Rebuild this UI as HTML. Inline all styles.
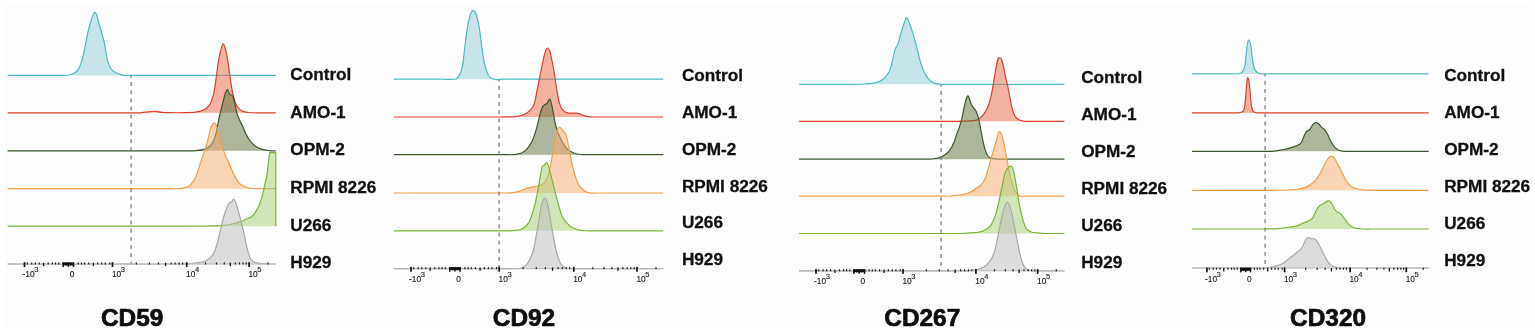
<!DOCTYPE html>
<html><head><meta charset="utf-8"><title>CD59 CD92 CD267 CD320 flow cytometry histograms</title>
<style>
html,body{margin:0;padding:0;background:#fff;}
body{width:1535px;height:333px;overflow:hidden;}
svg{display:block;}
.lb{font-family:"Liberation Sans",Arial,sans-serif;font-weight:bold;font-size:17.2px;fill:#111;stroke:#111;stroke-width:0.3px;}
.tt{font-family:"Liberation Sans",Arial,sans-serif;font-weight:bold;font-size:24.4px;fill:#0d0d0d;stroke:#0d0d0d;stroke-width:0.7px;}
.tl{font-family:"Liberation Sans",Arial,sans-serif;font-size:8.3px;fill:#1a1a1a;stroke:#1a1a1a;stroke-width:0.12px;}
.sp{font-size:7.6px;}
</style></head>
<body>
<svg width="1535" height="333" viewBox="0 0 1535 333">
<rect x="0" y="0" width="1535" height="333" fill="#ffffff"/>
<rect x="5" y="5" width="1525" height="323" fill="#fdfdfd"/>
<path d="M7.6 75.4 L60 75.4 C61.53 75.33 66.27 75.83 69.2 75 C72.13 74.17 75.38 73.17 77.6 70.4 C79.82 67.63 81.1 63.22 82.5 58.4 C83.9 53.58 85 46.23 86 41.5 C87 36.77 87.08 34.88 88.5 30 C89.92 25.12 92.7 13.08 94.5 12.2 C96.3 11.32 97.72 19.82 99.3 24.7 C100.88 29.58 102.6 35.48 104 41.5 C105.4 47.52 106.28 55.98 107.7 60.8 C109.12 65.62 110.12 68.02 112.5 70.4 C114.88 72.78 119.08 74.27 122 75.1 C124.92 75.93 128.67 75.35 130 75.4 L275.8 75.4 Z" fill="#91cdd3" fill-opacity="0.5" stroke="none"/>
<path d="M7.6 75.4 L60 75.4 C61.53 75.33 66.27 75.83 69.2 75 C72.13 74.17 75.38 73.17 77.6 70.4 C79.82 67.63 81.1 63.22 82.5 58.4 C83.9 53.58 85 46.23 86 41.5 C87 36.77 87.08 34.88 88.5 30 C89.92 25.12 92.7 13.08 94.5 12.2 C96.3 11.32 97.72 19.82 99.3 24.7 C100.88 29.58 102.6 35.48 104 41.5 C105.4 47.52 106.28 55.98 107.7 60.8 C109.12 65.62 110.12 68.02 112.5 70.4 C114.88 72.78 119.08 74.27 122 75.1 C124.92 75.93 128.67 75.35 130 75.4 L275.8 75.4" fill="none" stroke="#4fb9c1" stroke-width="1.2" stroke-linejoin="round"/>
<path d="M7.6 112.8 L140 112.8 C141.67 112.6 147.33 111.85 150 111.6 C152.67 111.35 154 111.17 156 111.3 C158 111.43 159.67 112.17 162 112.4 C164.33 112.63 166.17 112.65 170 112.7 C173.83 112.75 180.82 112.78 185 112.7 C189.18 112.62 192.13 112.58 195.1 112.2 C198.07 111.82 200.45 111.55 202.8 110.4 C205.15 109.25 207.5 107.65 209.2 105.3 C210.9 102.95 212.03 99.5 213 96.3 C213.97 93.1 214.37 89.93 215 86.1 C215.63 82.27 216.2 77.57 216.8 73.3 C217.4 69.03 217.95 64.33 218.6 60.5 C219.25 56.67 219.93 53.07 220.7 50.3 C221.47 47.53 222.35 43.9 223.2 43.9 C224.05 43.9 225.03 47.53 225.8 50.3 C226.57 53.07 227.17 56.67 227.8 60.5 C228.43 64.33 229 69.03 229.6 73.3 C230.2 77.57 230.77 82.27 231.4 86.1 C232.03 89.93 232.42 92.9 233.4 96.3 C234.38 99.7 235.8 104.03 237.3 106.5 C238.8 108.97 240.48 110.1 242.4 111.1 C244.32 112.1 246.53 112.22 248.8 112.5 C251.07 112.78 254.8 112.75 256 112.8 L275.8 112.8 Z" fill="#ec6a45" fill-opacity="0.5" stroke="none"/>
<path d="M7.6 112.8 L140 112.8 C141.67 112.6 147.33 111.85 150 111.6 C152.67 111.35 154 111.17 156 111.3 C158 111.43 159.67 112.17 162 112.4 C164.33 112.63 166.17 112.65 170 112.7 C173.83 112.75 180.82 112.78 185 112.7 C189.18 112.62 192.13 112.58 195.1 112.2 C198.07 111.82 200.45 111.55 202.8 110.4 C205.15 109.25 207.5 107.65 209.2 105.3 C210.9 102.95 212.03 99.5 213 96.3 C213.97 93.1 214.37 89.93 215 86.1 C215.63 82.27 216.2 77.57 216.8 73.3 C217.4 69.03 217.95 64.33 218.6 60.5 C219.25 56.67 219.93 53.07 220.7 50.3 C221.47 47.53 222.35 43.9 223.2 43.9 C224.05 43.9 225.03 47.53 225.8 50.3 C226.57 53.07 227.17 56.67 227.8 60.5 C228.43 64.33 229 69.03 229.6 73.3 C230.2 77.57 230.77 82.27 231.4 86.1 C232.03 89.93 232.42 92.9 233.4 96.3 C234.38 99.7 235.8 104.03 237.3 106.5 C238.8 108.97 240.48 110.1 242.4 111.1 C244.32 112.1 246.53 112.22 248.8 112.5 C251.07 112.78 254.8 112.75 256 112.8 L275.8 112.8" fill="none" stroke="#d9412f" stroke-width="1.2" stroke-linejoin="round"/>
<path d="M7.6 150.8 L185 150.8 C186.88 150.77 193.02 150.88 196.3 150.6 C199.58 150.32 202.25 150.03 204.7 149.1 C207.15 148.17 209.32 146.92 211 145 C212.68 143.08 213.75 140.58 214.8 137.6 C215.85 134.62 216.53 130.62 217.3 127.1 C218.07 123.58 218.7 119.67 219.4 116.5 C220.1 113.33 220.8 110.9 221.5 108.1 C222.2 105.3 222.97 102.15 223.6 99.7 C224.23 97.25 224.67 95.08 225.3 93.4 C225.93 91.72 226.75 89.57 227.4 89.6 C228.05 89.63 228.68 92.77 229.2 93.6 C229.72 94.43 229.85 94.07 230.5 94.6 C231.15 95.13 232.32 94.9 233.1 96.8 C233.88 98.7 234.5 103.07 235.2 106 C235.9 108.93 236.6 112.12 237.3 114.4 C238 116.68 238.52 117.77 239.4 119.7 C240.28 121.63 241.55 123.72 242.6 126 C243.65 128.28 244.48 130.95 245.7 133.4 C246.92 135.85 248.32 138.6 249.9 140.7 C251.48 142.8 253.27 144.6 255.2 146 C257.13 147.4 259.05 148.33 261.5 149.1 C263.95 149.87 267.82 150.32 269.9 150.6 C271.98 150.88 273.32 150.77 274 150.8 L275.8 150.8 Z" fill="#5d6e3c" fill-opacity="0.5" stroke="none"/>
<path d="M7.6 150.8 L185 150.8 C186.88 150.77 193.02 150.88 196.3 150.6 C199.58 150.32 202.25 150.03 204.7 149.1 C207.15 148.17 209.32 146.92 211 145 C212.68 143.08 213.75 140.58 214.8 137.6 C215.85 134.62 216.53 130.62 217.3 127.1 C218.07 123.58 218.7 119.67 219.4 116.5 C220.1 113.33 220.8 110.9 221.5 108.1 C222.2 105.3 222.97 102.15 223.6 99.7 C224.23 97.25 224.67 95.08 225.3 93.4 C225.93 91.72 226.75 89.57 227.4 89.6 C228.05 89.63 228.68 92.77 229.2 93.6 C229.72 94.43 229.85 94.07 230.5 94.6 C231.15 95.13 232.32 94.9 233.1 96.8 C233.88 98.7 234.5 103.07 235.2 106 C235.9 108.93 236.6 112.12 237.3 114.4 C238 116.68 238.52 117.77 239.4 119.7 C240.28 121.63 241.55 123.72 242.6 126 C243.65 128.28 244.48 130.95 245.7 133.4 C246.92 135.85 248.32 138.6 249.9 140.7 C251.48 142.8 253.27 144.6 255.2 146 C257.13 147.4 259.05 148.33 261.5 149.1 C263.95 149.87 267.82 150.32 269.9 150.6 C271.98 150.88 273.32 150.77 274 150.8 L275.8 150.8" fill="none" stroke="#385a2e" stroke-width="1.2" stroke-linejoin="round"/>
<path d="M7.6 188.7 L170 188.7 C172 188.65 178.67 188.97 182 188.4 C185.33 187.83 187.67 187.32 190 185.3 C192.33 183.28 194.12 180.47 196 176.3 C197.88 172.13 199.85 164.6 201.3 160.3 C202.75 156 203.78 153.18 204.7 150.5 C205.62 147.82 206.1 146.65 206.8 144.2 C207.5 141.75 208.2 138.62 208.9 135.8 C209.6 132.98 210.15 129.45 211 127.3 C211.85 125.15 213.12 123.23 214 122.9 C214.88 122.57 215.57 123.5 216.3 125.3 C217.03 127.1 217.53 130.55 218.4 133.7 C219.27 136.85 220.48 140.93 221.5 144.2 C222.52 147.47 223.47 150.62 224.5 153.3 C225.53 155.98 226.17 156.85 227.7 160.3 C229.23 163.75 231.7 170.1 233.7 174 C235.7 177.9 237.08 181.37 239.7 183.7 C242.32 186.03 246.35 187.17 249.4 188 C252.45 188.83 256.57 188.58 258 188.7 L275.8 188.7 Z" fill="#f9ab6b" fill-opacity="0.5" stroke="none"/>
<path d="M7.6 188.7 L170 188.7 C172 188.65 178.67 188.97 182 188.4 C185.33 187.83 187.67 187.32 190 185.3 C192.33 183.28 194.12 180.47 196 176.3 C197.88 172.13 199.85 164.6 201.3 160.3 C202.75 156 203.78 153.18 204.7 150.5 C205.62 147.82 206.1 146.65 206.8 144.2 C207.5 141.75 208.2 138.62 208.9 135.8 C209.6 132.98 210.15 129.45 211 127.3 C211.85 125.15 213.12 123.23 214 122.9 C214.88 122.57 215.57 123.5 216.3 125.3 C217.03 127.1 217.53 130.55 218.4 133.7 C219.27 136.85 220.48 140.93 221.5 144.2 C222.52 147.47 223.47 150.62 224.5 153.3 C225.53 155.98 226.17 156.85 227.7 160.3 C229.23 163.75 231.7 170.1 233.7 174 C235.7 177.9 237.08 181.37 239.7 183.7 C242.32 186.03 246.35 187.17 249.4 188 C252.45 188.83 256.57 188.58 258 188.7 L275.8 188.7" fill="none" stroke="#efa04c" stroke-width="1.2" stroke-linejoin="round"/>
<path d="M7.6 226.2 L200 226.2 C203.33 226.1 215.02 225.88 220 225.6 C224.98 225.32 226.87 225.05 229.9 224.5 C232.93 223.95 236 222.93 238.2 222.3 C240.4 221.67 241.73 221.25 243.1 220.7 C244.47 220.15 245.28 219.47 246.4 219 C247.52 218.53 248.68 218.48 249.8 217.9 C250.92 217.32 252 216.73 253.1 215.5 C254.2 214.27 255.3 212.43 256.4 210.5 C257.5 208.57 258.75 206.23 259.7 203.9 C260.65 201.57 261.42 198.83 262.1 196.5 C262.78 194.17 263.23 192.38 263.8 189.9 C264.37 187.42 264.95 184.25 265.5 181.6 C266.05 178.95 266.62 177.1 267.1 174 C267.58 170.9 267.98 166.57 268.4 163 C268.82 159.43 269.4 154.33 269.6 152.6 L275.8 152.6 L275.8 226.2 Z" fill="#a7cd71" fill-opacity="0.5" stroke="none"/>
<path d="M7.6 226.2 L200 226.2 C203.33 226.1 215.02 225.88 220 225.6 C224.98 225.32 226.87 225.05 229.9 224.5 C232.93 223.95 236 222.93 238.2 222.3 C240.4 221.67 241.73 221.25 243.1 220.7 C244.47 220.15 245.28 219.47 246.4 219 C247.52 218.53 248.68 218.48 249.8 217.9 C250.92 217.32 252 216.73 253.1 215.5 C254.2 214.27 255.3 212.43 256.4 210.5 C257.5 208.57 258.75 206.23 259.7 203.9 C260.65 201.57 261.42 198.83 262.1 196.5 C262.78 194.17 263.23 192.38 263.8 189.9 C264.37 187.42 264.95 184.25 265.5 181.6 C266.05 178.95 266.62 177.1 267.1 174 C267.58 170.9 267.98 166.57 268.4 163 C268.82 159.43 269.4 154.33 269.6 152.6 L275.8 152.6 L275.8 226.2" fill="none" stroke="#79b53a" stroke-width="1.2" stroke-linejoin="round"/>
<path d="M7.6 264 L180 264 C181.48 263.97 186.07 263.98 188.9 263.8 C191.73 263.62 194.82 263.22 197 262.9 C199.18 262.58 200.67 262.22 202 261.9 C203.33 261.58 203.8 261.55 205 261 C206.2 260.45 207.8 259.78 209.2 258.6 C210.6 257.42 212.17 256.08 213.4 253.9 C214.63 251.72 215.62 248.67 216.6 245.5 C217.58 242.33 218.43 238.42 219.3 234.9 C220.17 231.38 221.03 227.55 221.8 224.4 C222.57 221.25 223.2 218.45 223.9 216 C224.6 213.55 225.32 211.53 226 209.7 C226.68 207.87 227.37 206.22 228 205 C228.63 203.78 229.22 202.93 229.8 202.4 C230.38 201.87 230.9 202.33 231.5 201.8 C232.1 201.27 232.85 199.42 233.4 199.2 C233.95 198.98 234.35 199.8 234.8 200.5 C235.25 201.2 235.47 201.52 236.1 203.4 C236.73 205.28 237.75 208.65 238.6 211.8 C239.45 214.95 240.32 218.8 241.2 222.3 C242.08 225.8 243.1 229.3 243.9 232.8 C244.7 236.3 245.3 240.13 246 243.3 C246.7 246.47 247.43 249.38 248.1 251.8 C248.77 254.22 249.18 256.23 250 257.8 C250.82 259.37 251.83 260.35 253 261.2 C254.17 262.05 255.07 262.47 257 262.9 C258.93 263.33 262.43 263.62 264.6 263.8 C266.77 263.98 269.1 263.97 270 264 L275.8 264 Z" fill="#bcbcbc" fill-opacity="0.5" stroke="none"/>
<path d="M7.6 264 L180 264 C181.48 263.97 186.07 263.98 188.9 263.8 C191.73 263.62 194.82 263.22 197 262.9 C199.18 262.58 200.67 262.22 202 261.9 C203.33 261.58 203.8 261.55 205 261 C206.2 260.45 207.8 259.78 209.2 258.6 C210.6 257.42 212.17 256.08 213.4 253.9 C214.63 251.72 215.62 248.67 216.6 245.5 C217.58 242.33 218.43 238.42 219.3 234.9 C220.17 231.38 221.03 227.55 221.8 224.4 C222.57 221.25 223.2 218.45 223.9 216 C224.6 213.55 225.32 211.53 226 209.7 C226.68 207.87 227.37 206.22 228 205 C228.63 203.78 229.22 202.93 229.8 202.4 C230.38 201.87 230.9 202.33 231.5 201.8 C232.1 201.27 232.85 199.42 233.4 199.2 C233.95 198.98 234.35 199.8 234.8 200.5 C235.25 201.2 235.47 201.52 236.1 203.4 C236.73 205.28 237.75 208.65 238.6 211.8 C239.45 214.95 240.32 218.8 241.2 222.3 C242.08 225.8 243.1 229.3 243.9 232.8 C244.7 236.3 245.3 240.13 246 243.3 C246.7 246.47 247.43 249.38 248.1 251.8 C248.77 254.22 249.18 256.23 250 257.8 C250.82 259.37 251.83 260.35 253 261.2 C254.17 262.05 255.07 262.47 257 262.9 C258.93 263.33 262.43 263.62 264.6 263.8 C266.77 263.98 269.1 263.97 270 264 L275.8 264" fill="none" stroke="#a9a9a9" stroke-width="1.2" stroke-linejoin="round"/>
<line x1="131.1" y1="75.4" x2="131.1" y2="264" stroke="#7e7e7e" stroke-width="1.3" stroke-dasharray="3.9 4.25" stroke-dashoffset="1.45"/>
<line x1="7.6" y1="264" x2="275.8" y2="264" stroke="#bababa" stroke-width="1.0"/>
<rect x="23.65" y="262.2" width="1.7" height="4.8" fill="#111"/>
<rect x="111.65" y="262.2" width="1.7" height="4.8" fill="#111"/>
<rect x="185.85" y="262.2" width="1.7" height="4.8" fill="#111"/>
<rect x="248.25" y="262.2" width="1.7" height="4.8" fill="#111"/>
<rect x="26.63" y="262.4" width="1.2" height="2.1" fill="#222"/>
<rect x="109.17" y="262.4" width="1.2" height="2.1" fill="#222"/>
<rect x="31.12" y="262.4" width="1.2" height="2.1" fill="#222"/>
<rect x="104.68" y="262.4" width="1.2" height="2.1" fill="#222"/>
<rect x="34.72" y="262.4" width="1.2" height="2.1" fill="#222"/>
<rect x="101.08" y="262.4" width="1.2" height="2.1" fill="#222"/>
<rect x="38.68" y="262.4" width="1.2" height="2.1" fill="#222"/>
<rect x="97.12" y="262.4" width="1.2" height="2.1" fill="#222"/>
<rect x="42.95" y="262.7" width="1.3" height="3.4" fill="#111"/>
<rect x="92.75" y="262.7" width="1.3" height="3.4" fill="#111"/>
<rect x="47.66" y="262.4" width="1.2" height="2.1" fill="#222"/>
<rect x="88.14" y="262.4" width="1.2" height="2.1" fill="#222"/>
<rect x="51.8" y="262.4" width="1.2" height="2.1" fill="#222"/>
<rect x="84" y="262.4" width="1.2" height="2.1" fill="#222"/>
<rect x="54.88" y="262.4" width="1.2" height="2.1" fill="#222"/>
<rect x="80.92" y="262.4" width="1.2" height="2.1" fill="#222"/>
<rect x="58.13" y="262.4" width="1.2" height="2.1" fill="#222"/>
<rect x="77.67" y="262.4" width="1.2" height="2.1" fill="#222"/>
<rect x="135.72" y="262.4" width="1.2" height="2.1" fill="#222"/>
<rect x="148.79" y="262.4" width="1.2" height="2.1" fill="#222"/>
<rect x="157.83" y="262.4" width="1.2" height="2.1" fill="#222"/>
<rect x="164.9" y="262.7" width="1.3" height="3.4" fill="#111"/>
<rect x="170.53" y="262.4" width="1.2" height="2.1" fill="#222"/>
<rect x="174.61" y="262.4" width="1.2" height="2.1" fill="#222"/>
<rect x="178.54" y="262.4" width="1.2" height="2.1" fill="#222"/>
<rect x="181.96" y="262.4" width="1.2" height="2.1" fill="#222"/>
<rect x="204.88" y="262.4" width="1.2" height="2.1" fill="#222"/>
<rect x="215.87" y="262.4" width="1.2" height="2.1" fill="#222"/>
<rect x="223.67" y="262.4" width="1.2" height="2.1" fill="#222"/>
<rect x="229.67" y="262.7" width="1.3" height="3.4" fill="#111"/>
<rect x="234.66" y="262.4" width="1.2" height="2.1" fill="#222"/>
<rect x="238.83" y="262.4" width="1.2" height="2.1" fill="#222"/>
<rect x="242.45" y="262.4" width="1.2" height="2.1" fill="#222"/>
<rect x="245.64" y="262.4" width="1.2" height="2.1" fill="#222"/>
<rect x="267.28" y="262.4" width="1.2" height="2.1" fill="#222"/>
<rect x="62.5" y="262.4" width="11.7" height="3.0" fill="#111"/>
<rect x="62.5" y="262.4" width="1.5" height="4.7" fill="#111"/>
<rect x="65.51" y="262.4" width="1" height="3.3" fill="#111"/>
<rect x="67.55" y="262.4" width="1.6" height="4.4" fill="#111"/>
<rect x="70.19" y="262.4" width="1" height="3.3" fill="#111"/>
<rect x="72.7" y="262.4" width="1.5" height="4.7" fill="#111"/>
<text x="22.6" y="277" class="tl">-10<tspan dx="-0.4" dy="-4.8" class="sp">3</tspan></text>
<text x="69.65" y="277" class="tl">0</text>
<text x="111.9" y="277" class="tl">10<tspan dx="-0.4" dy="-4.8" class="sp">3</tspan></text>
<text x="186.1" y="277" class="tl">10<tspan dx="-0.4" dy="-4.8" class="sp">4</tspan></text>
<text x="248.5" y="277" class="tl">10<tspan dx="-0.4" dy="-4.8" class="sp">5</tspan></text>
<text x="290.3" y="79.9" class="lb">Control</text>
<text x="290.3" y="118.1" class="lb">AMO-1</text>
<text x="290.3" y="155.2" class="lb">OPM-2</text>
<text x="290.3" y="192.7" class="lb">RPMI 8226</text>
<text x="290.3" y="230.7" class="lb">U266</text>
<text x="290.3" y="267.7" class="lb">H929</text>
<text x="101" y="326" class="tt">CD59</text>
<path d="M393.9 79.2 L440 79.2 C441.8 79.24 448.1 79.53 450.8 79.45 C453.5 79.38 454.62 79.77 456.2 78.75 C457.78 77.73 459.17 76.05 460.3 73.35 C461.43 70.65 462.23 67.07 463 62.55 C463.77 58.03 464.23 51.67 464.9 46.25 C465.57 40.83 466.2 35 467 30.05 C467.8 25.1 468.95 19.58 469.7 16.55 C470.45 13.52 470.92 12.83 471.5 11.85 C472.08 10.87 472.62 10.63 473.2 10.65 C473.78 10.67 474.45 11.18 475 11.95 C475.55 12.72 475.8 12.68 476.5 15.25 C477.2 17.82 478.38 22.63 479.2 27.35 C480.02 32.07 480.63 38.13 481.4 43.55 C482.17 48.97 482.95 55.33 483.8 59.85 C484.65 64.37 485.47 67.73 486.5 70.65 C487.53 73.57 488.52 75.88 490 77.35 C491.48 78.82 493.4 79.14 495.4 79.45 C497.4 79.76 500.9 79.24 502 79.2 L663.3 79.2 Z" fill="#91cdd3" fill-opacity="0.5" stroke="none"/>
<path d="M393.9 79.2 L440 79.2 C441.8 79.24 448.1 79.53 450.8 79.45 C453.5 79.38 454.62 79.77 456.2 78.75 C457.78 77.73 459.17 76.05 460.3 73.35 C461.43 70.65 462.23 67.07 463 62.55 C463.77 58.03 464.23 51.67 464.9 46.25 C465.57 40.83 466.2 35 467 30.05 C467.8 25.1 468.95 19.58 469.7 16.55 C470.45 13.52 470.92 12.83 471.5 11.85 C472.08 10.87 472.62 10.63 473.2 10.65 C473.78 10.67 474.45 11.18 475 11.95 C475.55 12.72 475.8 12.68 476.5 15.25 C477.2 17.82 478.38 22.63 479.2 27.35 C480.02 32.07 480.63 38.13 481.4 43.55 C482.17 48.97 482.95 55.33 483.8 59.85 C484.65 64.37 485.47 67.73 486.5 70.65 C487.53 73.57 488.52 75.88 490 77.35 C491.48 78.82 493.4 79.14 495.4 79.45 C497.4 79.76 500.9 79.24 502 79.2 L663.3 79.2" fill="none" stroke="#4fb9c1" stroke-width="1.2" stroke-linejoin="round"/>
<path d="M393.9 117 L500 117 C502.53 116.92 511.18 116.96 515.2 116.55 C519.22 116.14 521.55 115.65 524.1 114.55 C526.65 113.45 528.8 111.82 530.5 109.95 C532.2 108.08 533.23 106.45 534.3 103.35 C535.37 100.25 536.05 95.47 536.9 91.35 C537.75 87.23 538.55 82.9 539.4 78.65 C540.25 74.4 541.15 69.9 542 65.85 C542.85 61.8 543.78 57.12 544.5 54.35 C545.22 51.58 545.73 50.3 546.3 49.25 C546.87 48.2 547.35 47.83 547.9 48.05 C548.45 48.27 549.02 48.85 549.6 50.55 C550.18 52.25 550.75 55.27 551.4 58.25 C552.05 61.23 552.82 64.63 553.5 68.45 C554.18 72.27 554.83 76.9 555.5 81.15 C556.17 85.4 556.78 90.12 557.5 93.95 C558.22 97.78 558.85 101.38 559.8 104.15 C560.75 106.92 561.92 109.1 563.2 110.55 C564.48 112 565.72 112.43 567.5 112.85 C569.28 113.27 571.98 112.93 573.9 113.05 C575.82 113.17 577.3 113.12 579 113.55 C580.7 113.98 582.4 115.1 584.1 115.65 C585.8 116.2 587.1 116.62 589.2 116.85 C591.3 117.07 595.45 116.97 596.7 117 L663.3 117 Z" fill="#ec6a45" fill-opacity="0.5" stroke="none"/>
<path d="M393.9 117 L500 117 C502.53 116.92 511.18 116.96 515.2 116.55 C519.22 116.14 521.55 115.65 524.1 114.55 C526.65 113.45 528.8 111.82 530.5 109.95 C532.2 108.08 533.23 106.45 534.3 103.35 C535.37 100.25 536.05 95.47 536.9 91.35 C537.75 87.23 538.55 82.9 539.4 78.65 C540.25 74.4 541.15 69.9 542 65.85 C542.85 61.8 543.78 57.12 544.5 54.35 C545.22 51.58 545.73 50.3 546.3 49.25 C546.87 48.2 547.35 47.83 547.9 48.05 C548.45 48.27 549.02 48.85 549.6 50.55 C550.18 52.25 550.75 55.27 551.4 58.25 C552.05 61.23 552.82 64.63 553.5 68.45 C554.18 72.27 554.83 76.9 555.5 81.15 C556.17 85.4 556.78 90.12 557.5 93.95 C558.22 97.78 558.85 101.38 559.8 104.15 C560.75 106.92 561.92 109.1 563.2 110.55 C564.48 112 565.72 112.43 567.5 112.85 C569.28 113.27 571.98 112.93 573.9 113.05 C575.82 113.17 577.3 113.12 579 113.55 C580.7 113.98 582.4 115.1 584.1 115.65 C585.8 116.2 587.1 116.62 589.2 116.85 C591.3 117.07 595.45 116.97 596.7 117 L663.3 117" fill="none" stroke="#d9412f" stroke-width="1.2" stroke-linejoin="round"/>
<path d="M393.9 154.7 L505 154.7 C506.9 154.65 513.12 155 516.4 154.4 C519.68 153.8 522.22 153.03 524.7 151.1 C527.18 149.17 529.38 146.38 531.3 142.8 C533.22 139.22 534.83 134 536.2 129.6 C537.57 125.2 538.53 120 539.5 116.4 C540.47 112.8 541.17 109.92 542 108 C542.83 106.08 543.67 105.65 544.5 104.9 C545.33 104.15 546.18 104.45 547 103.5 C547.82 102.55 548.73 99.45 549.4 99.2 C550.07 98.95 550.45 100.23 551 102 C551.55 103.77 551.87 105.75 552.7 109.8 C553.53 113.85 554.62 121.35 556 126.3 C557.38 131.25 559.07 135.65 561 139.5 C562.93 143.35 565.12 147.03 567.6 149.4 C570.08 151.77 573 152.82 575.9 153.7 C578.8 154.58 583.48 154.53 585 154.7 L663.3 154.7 Z" fill="#5d6e3c" fill-opacity="0.5" stroke="none"/>
<path d="M393.9 154.7 L505 154.7 C506.9 154.65 513.12 155 516.4 154.4 C519.68 153.8 522.22 153.03 524.7 151.1 C527.18 149.17 529.38 146.38 531.3 142.8 C533.22 139.22 534.83 134 536.2 129.6 C537.57 125.2 538.53 120 539.5 116.4 C540.47 112.8 541.17 109.92 542 108 C542.83 106.08 543.67 105.65 544.5 104.9 C545.33 104.15 546.18 104.45 547 103.5 C547.82 102.55 548.73 99.45 549.4 99.2 C550.07 98.95 550.45 100.23 551 102 C551.55 103.77 551.87 105.75 552.7 109.8 C553.53 113.85 554.62 121.35 556 126.3 C557.38 131.25 559.07 135.65 561 139.5 C562.93 143.35 565.12 147.03 567.6 149.4 C570.08 151.77 573 152.82 575.9 153.7 C578.8 154.58 583.48 154.53 585 154.7 L663.3 154.7" fill="none" stroke="#385a2e" stroke-width="1.2" stroke-linejoin="round"/>
<path d="M393.9 193 L505 193 C506.17 192.97 509.83 193.03 512 192.8 C514.17 192.57 516 192.17 518 191.6 C520 191.03 522 190.1 524 189.4 C526 188.7 527.83 187.97 530 187.4 C532.17 186.83 534.83 186.57 537 186 C539.17 185.43 541.33 185.33 543 184 C544.67 182.67 545.65 181.55 547 178 C548.35 174.45 549.87 168.57 551.1 162.7 C552.33 156.83 553.5 147.75 554.4 142.8 C555.3 137.85 555.67 135.58 556.5 133 C557.33 130.42 558.4 127.8 559.4 127.3 C560.4 126.8 561.4 128.78 562.5 130 C563.6 131.22 564.98 131.92 566 134.6 C567.02 137.28 567.5 140.87 568.6 146.1 C569.7 151.33 571.12 159.93 572.6 166 C574.08 172.07 575.58 178.38 577.5 182.5 C579.42 186.62 582.02 188.95 584.1 190.7 C586.18 192.45 588.02 192.62 590 193 C591.98 193.38 595 193 596 193 L663.3 193 Z" fill="#f9ab6b" fill-opacity="0.5" stroke="none"/>
<path d="M393.9 193 L505 193 C506.17 192.97 509.83 193.03 512 192.8 C514.17 192.57 516 192.17 518 191.6 C520 191.03 522 190.1 524 189.4 C526 188.7 527.83 187.97 530 187.4 C532.17 186.83 534.83 186.57 537 186 C539.17 185.43 541.33 185.33 543 184 C544.67 182.67 545.65 181.55 547 178 C548.35 174.45 549.87 168.57 551.1 162.7 C552.33 156.83 553.5 147.75 554.4 142.8 C555.3 137.85 555.67 135.58 556.5 133 C557.33 130.42 558.4 127.8 559.4 127.3 C560.4 126.8 561.4 128.78 562.5 130 C563.6 131.22 564.98 131.92 566 134.6 C567.02 137.28 567.5 140.87 568.6 146.1 C569.7 151.33 571.12 159.93 572.6 166 C574.08 172.07 575.58 178.38 577.5 182.5 C579.42 186.62 582.02 188.95 584.1 190.7 C586.18 192.45 588.02 192.62 590 193 C591.98 193.38 595 193 596 193 L663.3 193" fill="none" stroke="#efa04c" stroke-width="1.2" stroke-linejoin="round"/>
<path d="M393.9 230.8 L510 230.8 C511.87 230.55 518.03 230.73 521.2 229.3 C524.37 227.87 526.72 226.3 529 222.2 C531.28 218.1 533.27 210.88 534.9 204.7 C536.53 198.52 537.63 191.28 538.8 185.1 C539.97 178.92 541.03 170.87 541.9 167.6 C542.77 164.33 543.22 166.35 544 165.5 C544.78 164.65 545.85 162.42 546.6 162.5 C547.35 162.58 547.85 164.18 548.5 166 C549.15 167.82 549.18 168.25 550.5 173.4 C551.82 178.55 554.45 189.73 556.4 196.9 C558.35 204.07 559.93 211.53 562.2 216.4 C564.47 221.27 567.07 223.8 570 226.1 C572.93 228.4 576.8 229.42 579.8 230.2 C582.8 230.98 586.63 230.7 588 230.8 L663.3 230.8 Z" fill="#a7cd71" fill-opacity="0.5" stroke="none"/>
<path d="M393.9 230.8 L510 230.8 C511.87 230.55 518.03 230.73 521.2 229.3 C524.37 227.87 526.72 226.3 529 222.2 C531.28 218.1 533.27 210.88 534.9 204.7 C536.53 198.52 537.63 191.28 538.8 185.1 C539.97 178.92 541.03 170.87 541.9 167.6 C542.77 164.33 543.22 166.35 544 165.5 C544.78 164.65 545.85 162.42 546.6 162.5 C547.35 162.58 547.85 164.18 548.5 166 C549.15 167.82 549.18 168.25 550.5 173.4 C551.82 178.55 554.45 189.73 556.4 196.9 C558.35 204.07 559.93 211.53 562.2 216.4 C564.47 221.27 567.07 223.8 570 226.1 C572.93 228.4 576.8 229.42 579.8 230.2 C582.8 230.98 586.63 230.7 588 230.8 L663.3 230.8" fill="none" stroke="#79b53a" stroke-width="1.2" stroke-linejoin="round"/>
<path d="M393.9 268.7 L515 268.7 C516 268.63 518.98 269.05 521 268.3 C523.02 267.55 525.1 267 527.1 264.2 C529.1 261.4 531.37 256.87 533 251.5 C534.63 246.13 535.6 239.15 536.9 232 C538.2 224.85 539.78 213.85 540.8 208.6 C541.82 203.35 542.35 202.27 543 200.5 C543.65 198.73 544.12 198 544.7 198 C545.28 198 545.85 198.73 546.5 200.5 C547.15 202.27 547.6 203.35 548.6 208.6 C549.6 213.85 551.2 224.85 552.5 232 C553.8 239.15 554.98 246.13 556.4 251.5 C557.82 256.87 559.23 261.4 561 264.2 C562.77 267 565 267.55 567 268.3 C569 269.05 572 268.63 573 268.7 L663.3 268.7 Z" fill="#bcbcbc" fill-opacity="0.5" stroke="none"/>
<path d="M393.9 268.7 L515 268.7 C516 268.63 518.98 269.05 521 268.3 C523.02 267.55 525.1 267 527.1 264.2 C529.1 261.4 531.37 256.87 533 251.5 C534.63 246.13 535.6 239.15 536.9 232 C538.2 224.85 539.78 213.85 540.8 208.6 C541.82 203.35 542.35 202.27 543 200.5 C543.65 198.73 544.12 198 544.7 198 C545.28 198 545.85 198.73 546.5 200.5 C547.15 202.27 547.6 203.35 548.6 208.6 C549.6 213.85 551.2 224.85 552.5 232 C553.8 239.15 554.98 246.13 556.4 251.5 C557.82 256.87 559.23 261.4 561 264.2 C562.77 267 565 267.55 567 268.3 C569 269.05 572 268.63 573 268.7 L663.3 268.7" fill="none" stroke="#a9a9a9" stroke-width="1.2" stroke-linejoin="round"/>
<line x1="499.1" y1="79.2" x2="499.1" y2="268.7" stroke="#7e7e7e" stroke-width="1.3" stroke-dasharray="3.9 4.25" stroke-dashoffset="1.55"/>
<line x1="393.9" y1="268.7" x2="663.3" y2="268.7" stroke="#bababa" stroke-width="1.0"/>
<rect x="410.15" y="266.9" width="1.7" height="4.8" fill="#111"/>
<rect x="498.35" y="266.9" width="1.7" height="4.8" fill="#111"/>
<rect x="572.95" y="266.9" width="1.7" height="4.8" fill="#111"/>
<rect x="636.15" y="266.9" width="1.7" height="4.8" fill="#111"/>
<rect x="413.13" y="267.1" width="1.2" height="2.1" fill="#222"/>
<rect x="495.87" y="267.1" width="1.2" height="2.1" fill="#222"/>
<rect x="417.63" y="267.1" width="1.2" height="2.1" fill="#222"/>
<rect x="491.37" y="267.1" width="1.2" height="2.1" fill="#222"/>
<rect x="421.25" y="267.1" width="1.2" height="2.1" fill="#222"/>
<rect x="487.75" y="267.1" width="1.2" height="2.1" fill="#222"/>
<rect x="425.22" y="267.1" width="1.2" height="2.1" fill="#222"/>
<rect x="483.78" y="267.1" width="1.2" height="2.1" fill="#222"/>
<rect x="429.49" y="267.4" width="1.3" height="3.4" fill="#111"/>
<rect x="479.41" y="267.4" width="1.3" height="3.4" fill="#111"/>
<rect x="434.21" y="267.1" width="1.2" height="2.1" fill="#222"/>
<rect x="474.79" y="267.1" width="1.2" height="2.1" fill="#222"/>
<rect x="438.36" y="267.1" width="1.2" height="2.1" fill="#222"/>
<rect x="470.64" y="267.1" width="1.2" height="2.1" fill="#222"/>
<rect x="441.45" y="267.1" width="1.2" height="2.1" fill="#222"/>
<rect x="467.55" y="267.1" width="1.2" height="2.1" fill="#222"/>
<rect x="444.71" y="267.1" width="1.2" height="2.1" fill="#222"/>
<rect x="464.29" y="267.1" width="1.2" height="2.1" fill="#222"/>
<rect x="522.55" y="267.1" width="1.2" height="2.1" fill="#222"/>
<rect x="535.69" y="267.1" width="1.2" height="2.1" fill="#222"/>
<rect x="544.78" y="267.1" width="1.2" height="2.1" fill="#222"/>
<rect x="551.89" y="267.4" width="1.3" height="3.4" fill="#111"/>
<rect x="557.55" y="267.1" width="1.2" height="2.1" fill="#222"/>
<rect x="561.64" y="267.1" width="1.2" height="2.1" fill="#222"/>
<rect x="565.6" y="267.1" width="1.2" height="2.1" fill="#222"/>
<rect x="569.04" y="267.1" width="1.2" height="2.1" fill="#222"/>
<rect x="592.23" y="267.1" width="1.2" height="2.1" fill="#222"/>
<rect x="603.35" y="267.1" width="1.2" height="2.1" fill="#222"/>
<rect x="611.25" y="267.1" width="1.2" height="2.1" fill="#222"/>
<rect x="617.32" y="267.4" width="1.3" height="3.4" fill="#111"/>
<rect x="622.38" y="267.1" width="1.2" height="2.1" fill="#222"/>
<rect x="626.61" y="267.1" width="1.2" height="2.1" fill="#222"/>
<rect x="630.28" y="267.1" width="1.2" height="2.1" fill="#222"/>
<rect x="633.51" y="267.1" width="1.2" height="2.1" fill="#222"/>
<rect x="655.43" y="267.1" width="1.2" height="2.1" fill="#222"/>
<rect x="449" y="267.1" width="11.8" height="3.0" fill="#111"/>
<rect x="449" y="267.1" width="1.5" height="4.7" fill="#111"/>
<rect x="452.04" y="267.1" width="1" height="3.3" fill="#111"/>
<rect x="454.1" y="267.1" width="1.6" height="4.4" fill="#111"/>
<rect x="456.76" y="267.1" width="1" height="3.3" fill="#111"/>
<rect x="459.3" y="267.1" width="1.5" height="4.7" fill="#111"/>
<text x="409.1" y="281.7" class="tl">-10<tspan dx="-0.4" dy="-4.8" class="sp">3</tspan></text>
<text x="456.2" y="281.7" class="tl">0</text>
<text x="498.6" y="281.7" class="tl">10<tspan dx="-0.4" dy="-4.8" class="sp">3</tspan></text>
<text x="573.2" y="281.7" class="tl">10<tspan dx="-0.4" dy="-4.8" class="sp">4</tspan></text>
<text x="636.4" y="281.7" class="tl">10<tspan dx="-0.4" dy="-4.8" class="sp">5</tspan></text>
<text x="681.9" y="80.6" class="lb">Control</text>
<text x="681.9" y="118.1" class="lb">AMO-1</text>
<text x="681.9" y="154.6" class="lb">OPM-2</text>
<text x="681.9" y="191.7" class="lb">RPMI 8226</text>
<text x="681.9" y="228.2" class="lb">U266</text>
<text x="681.9" y="265.4" class="lb">H929</text>
<text x="492.8" y="326.1" class="tt">CD92</text>
<path d="M799.1 84.3 L850 84.3 C852.52 84.25 860.58 84.33 865.1 84 C869.62 83.67 874.1 83.1 877.1 82.3 C880.1 81.5 881.33 80.57 883.1 79.2 C884.87 77.83 886.43 75.95 887.7 74.1 C888.97 72.25 889.8 70.85 890.7 68.1 C891.6 65.35 892.35 60.75 893.1 57.6 C893.85 54.45 894.35 51.55 895.2 49.2 C896.05 46.85 897.2 46.35 898.2 43.5 C899.2 40.65 900.2 35.52 901.2 32.1 C902.2 28.68 903.3 25.42 904.2 23 C905.1 20.58 905.8 17.75 906.6 17.6 C907.4 17.45 908.15 20.1 909 22.1 C909.85 24.1 910.6 26.18 911.7 29.6 C912.8 33.02 914.35 37.93 915.6 42.6 C916.85 47.27 917.85 52.85 919.2 57.6 C920.55 62.35 922.2 67.6 923.7 71.1 C925.2 74.6 926.45 76.6 928.2 78.6 C929.95 80.6 931.95 82.15 934.2 83.1 C936.45 84.05 940.45 84.1 941.7 84.3 L1064.4 84.3 Z" fill="#91cdd3" fill-opacity="0.5" stroke="none"/>
<path d="M799.1 84.3 L850 84.3 C852.52 84.25 860.58 84.33 865.1 84 C869.62 83.67 874.1 83.1 877.1 82.3 C880.1 81.5 881.33 80.57 883.1 79.2 C884.87 77.83 886.43 75.95 887.7 74.1 C888.97 72.25 889.8 70.85 890.7 68.1 C891.6 65.35 892.35 60.75 893.1 57.6 C893.85 54.45 894.35 51.55 895.2 49.2 C896.05 46.85 897.2 46.35 898.2 43.5 C899.2 40.65 900.2 35.52 901.2 32.1 C902.2 28.68 903.3 25.42 904.2 23 C905.1 20.58 905.8 17.75 906.6 17.6 C907.4 17.45 908.15 20.1 909 22.1 C909.85 24.1 910.6 26.18 911.7 29.6 C912.8 33.02 914.35 37.93 915.6 42.6 C916.85 47.27 917.85 52.85 919.2 57.6 C920.55 62.35 922.2 67.6 923.7 71.1 C925.2 74.6 926.45 76.6 928.2 78.6 C929.95 80.6 931.95 82.15 934.2 83.1 C936.45 84.05 940.45 84.1 941.7 84.3 L1064.4 84.3" fill="none" stroke="#4fb9c1" stroke-width="1.2" stroke-linejoin="round"/>
<path d="M799.1 121.33 L960 121.33 C962.5 121.16 971.57 120.92 975 120.3 C978.43 119.68 979.02 118.8 980.6 117.6 C982.18 116.4 983.25 114.98 984.5 113.1 C985.75 111.22 987.05 108.93 988.1 106.3 C989.15 103.67 989.98 100.68 990.8 97.3 C991.62 93.92 992.33 89.75 993 86 C993.67 82.25 994.23 78.17 994.8 74.8 C995.37 71.43 995.93 68.18 996.4 65.8 C996.87 63.42 997.23 61.82 997.6 60.5 C997.97 59.18 998.17 58.28 998.6 57.9 C999.03 57.52 999.7 57.93 1000.2 58.2 C1000.7 58.47 1001 57.87 1001.6 59.5 C1002.2 61.13 1003.13 65.08 1003.8 68 C1004.47 70.92 1004.95 74 1005.6 77 C1006.25 80 1006.98 82.62 1007.7 86 C1008.42 89.38 1009.15 93.53 1009.9 97.3 C1010.65 101.07 1011.33 105.42 1012.2 108.6 C1013.07 111.78 1013.98 114.53 1015.1 116.4 C1016.22 118.27 1017.52 119.02 1018.9 119.8 C1020.28 120.58 1021.55 120.84 1023.4 121.1 C1025.25 121.35 1028.9 121.29 1030 121.33 L1064.4 121.33 Z" fill="#ec6a45" fill-opacity="0.5" stroke="none"/>
<path d="M799.1 121.33 L960 121.33 C962.5 121.16 971.57 120.92 975 120.3 C978.43 119.68 979.02 118.8 980.6 117.6 C982.18 116.4 983.25 114.98 984.5 113.1 C985.75 111.22 987.05 108.93 988.1 106.3 C989.15 103.67 989.98 100.68 990.8 97.3 C991.62 93.92 992.33 89.75 993 86 C993.67 82.25 994.23 78.17 994.8 74.8 C995.37 71.43 995.93 68.18 996.4 65.8 C996.87 63.42 997.23 61.82 997.6 60.5 C997.97 59.18 998.17 58.28 998.6 57.9 C999.03 57.52 999.7 57.93 1000.2 58.2 C1000.7 58.47 1001 57.87 1001.6 59.5 C1002.2 61.13 1003.13 65.08 1003.8 68 C1004.47 70.92 1004.95 74 1005.6 77 C1006.25 80 1006.98 82.62 1007.7 86 C1008.42 89.38 1009.15 93.53 1009.9 97.3 C1010.65 101.07 1011.33 105.42 1012.2 108.6 C1013.07 111.78 1013.98 114.53 1015.1 116.4 C1016.22 118.27 1017.52 119.02 1018.9 119.8 C1020.28 120.58 1021.55 120.84 1023.4 121.1 C1025.25 121.35 1028.9 121.29 1030 121.33 L1064.4 121.33" fill="none" stroke="#d9412f" stroke-width="1.2" stroke-linejoin="round"/>
<path d="M799.1 159.16 L925 159.16 C926.17 159.13 929.57 159.26 932 159 C934.43 158.74 937.33 158.38 939.6 157.6 C941.87 156.82 943.8 155.68 945.6 154.3 C947.4 152.92 948.98 151.35 950.4 149.3 C951.82 147.25 953.02 144.62 954.1 142 C955.18 139.38 956.03 136.03 956.9 133.6 C957.77 131.17 958.48 129.85 959.3 127.4 C960.12 124.95 961.07 121.92 961.8 118.9 C962.53 115.88 963.07 112.32 963.7 109.3 C964.33 106.28 965 102.95 965.6 100.8 C966.2 98.65 966.82 97.13 967.3 96.4 C967.78 95.67 968.1 95.83 968.5 96.4 C968.9 96.97 969.22 98.45 969.7 99.8 C970.18 101.15 970.72 103.12 971.4 104.5 C972.08 105.88 973.08 107.08 973.8 108.1 C974.52 109.12 975.07 109.38 975.7 110.6 C976.33 111.82 977 113.6 977.6 115.4 C978.2 117.2 978.73 118.82 979.3 121.4 C979.87 123.98 980.4 127.72 981 130.9 C981.6 134.08 982.27 137.5 982.9 140.5 C983.53 143.5 984.07 146.48 984.8 148.9 C985.53 151.32 986.42 153.52 987.3 155 C988.18 156.48 988.82 157.15 990.1 157.8 C991.38 158.45 993.02 158.67 995 158.9 C996.98 159.13 1000.83 159.12 1002 159.16 L1064.4 159.16 Z" fill="#5d6e3c" fill-opacity="0.5" stroke="none"/>
<path d="M799.1 159.16 L925 159.16 C926.17 159.13 929.57 159.26 932 159 C934.43 158.74 937.33 158.38 939.6 157.6 C941.87 156.82 943.8 155.68 945.6 154.3 C947.4 152.92 948.98 151.35 950.4 149.3 C951.82 147.25 953.02 144.62 954.1 142 C955.18 139.38 956.03 136.03 956.9 133.6 C957.77 131.17 958.48 129.85 959.3 127.4 C960.12 124.95 961.07 121.92 961.8 118.9 C962.53 115.88 963.07 112.32 963.7 109.3 C964.33 106.28 965 102.95 965.6 100.8 C966.2 98.65 966.82 97.13 967.3 96.4 C967.78 95.67 968.1 95.83 968.5 96.4 C968.9 96.97 969.22 98.45 969.7 99.8 C970.18 101.15 970.72 103.12 971.4 104.5 C972.08 105.88 973.08 107.08 973.8 108.1 C974.52 109.12 975.07 109.38 975.7 110.6 C976.33 111.82 977 113.6 977.6 115.4 C978.2 117.2 978.73 118.82 979.3 121.4 C979.87 123.98 980.4 127.72 981 130.9 C981.6 134.08 982.27 137.5 982.9 140.5 C983.53 143.5 984.07 146.48 984.8 148.9 C985.53 151.32 986.42 153.52 987.3 155 C988.18 156.48 988.82 157.15 990.1 157.8 C991.38 158.45 993.02 158.67 995 158.9 C996.98 159.13 1000.83 159.12 1002 159.16 L1064.4 159.16" fill="none" stroke="#385a2e" stroke-width="1.2" stroke-linejoin="round"/>
<path d="M799.1 196.2 L945 196.2 C945.83 196.18 946.92 196.4 950 196.1 C953.08 195.8 960.12 195.05 963.5 194.4 C966.88 193.75 968.42 193.07 970.3 192.2 C972.18 191.33 973.48 190.07 974.8 189.2 C976.12 188.33 977.08 187.75 978.2 187 C979.32 186.25 980.38 186.02 981.5 184.7 C982.62 183.38 983.95 181.17 984.9 179.1 C985.85 177.03 986.45 174.75 987.2 172.3 C987.95 169.85 988.65 167.03 989.4 164.4 C990.15 161.77 990.95 159.12 991.7 156.5 C992.45 153.88 993.15 151.32 993.9 148.7 C994.65 146.08 995.52 143.25 996.2 140.8 C996.88 138.35 997.43 135.58 998 134 C998.57 132.42 999.03 131.3 999.6 131.3 C1000.17 131.3 1000.83 132.62 1001.4 134 C1001.97 135.38 1002.48 137.53 1003 139.6 C1003.52 141.67 1003.95 143.58 1004.5 146.4 C1005.05 149.22 1005.7 153.3 1006.3 156.5 C1006.9 159.7 1007.42 162.22 1008.1 165.6 C1008.78 168.98 1009.57 173.43 1010.4 176.8 C1011.23 180.17 1012.2 183.17 1013.1 185.8 C1014 188.43 1014.67 190.9 1015.8 192.6 C1016.93 194.3 1018.1 195.4 1019.9 196 C1021.7 196.6 1024.58 196.17 1026.6 196.2 C1028.62 196.23 1031.1 196.2 1032 196.2 L1064.4 196.2 Z" fill="#f9ab6b" fill-opacity="0.5" stroke="none"/>
<path d="M799.1 196.2 L945 196.2 C945.83 196.18 946.92 196.4 950 196.1 C953.08 195.8 960.12 195.05 963.5 194.4 C966.88 193.75 968.42 193.07 970.3 192.2 C972.18 191.33 973.48 190.07 974.8 189.2 C976.12 188.33 977.08 187.75 978.2 187 C979.32 186.25 980.38 186.02 981.5 184.7 C982.62 183.38 983.95 181.17 984.9 179.1 C985.85 177.03 986.45 174.75 987.2 172.3 C987.95 169.85 988.65 167.03 989.4 164.4 C990.15 161.77 990.95 159.12 991.7 156.5 C992.45 153.88 993.15 151.32 993.9 148.7 C994.65 146.08 995.52 143.25 996.2 140.8 C996.88 138.35 997.43 135.58 998 134 C998.57 132.42 999.03 131.3 999.6 131.3 C1000.17 131.3 1000.83 132.62 1001.4 134 C1001.97 135.38 1002.48 137.53 1003 139.6 C1003.52 141.67 1003.95 143.58 1004.5 146.4 C1005.05 149.22 1005.7 153.3 1006.3 156.5 C1006.9 159.7 1007.42 162.22 1008.1 165.6 C1008.78 168.98 1009.57 173.43 1010.4 176.8 C1011.23 180.17 1012.2 183.17 1013.1 185.8 C1014 188.43 1014.67 190.9 1015.8 192.6 C1016.93 194.3 1018.1 195.4 1019.9 196 C1021.7 196.6 1024.58 196.17 1026.6 196.2 C1028.62 196.23 1031.1 196.2 1032 196.2 L1064.4 196.2" fill="none" stroke="#efa04c" stroke-width="1.2" stroke-linejoin="round"/>
<path d="M799.1 233.5 L962 233.5 C963.33 233.4 967.07 233.15 970 232.9 C972.93 232.65 976.8 232.67 979.6 232 C982.4 231.33 984.8 230.22 986.8 228.9 C988.8 227.58 990.27 226.1 991.6 224.1 C992.93 222.1 993.8 219.7 994.8 216.9 C995.8 214.1 996.73 210.7 997.6 207.3 C998.47 203.9 999.18 200.32 1000 196.5 C1000.82 192.68 1001.68 188.22 1002.5 184.4 C1003.32 180.58 1004.1 176.2 1004.9 173.6 C1005.7 171 1006.5 170 1007.3 168.8 C1008.1 167.6 1008.98 166.8 1009.7 166.4 C1010.42 166 1011 165.8 1011.6 166.4 C1012.2 167 1012.7 167.8 1013.3 170 C1013.9 172.2 1014.6 176.4 1015.2 179.6 C1015.8 182.8 1016.3 185.58 1016.9 189.2 C1017.5 192.82 1018.12 197.48 1018.8 201.3 C1019.48 205.12 1020.23 208.7 1021 212.1 C1021.77 215.5 1022.48 218.9 1023.4 221.7 C1024.32 224.5 1025.18 227.18 1026.5 228.9 C1027.82 230.62 1029.5 231.33 1031.3 232 C1033.1 232.67 1035.18 232.65 1037.3 232.9 C1039.42 233.15 1042.88 233.4 1044 233.5 L1064.4 233.5 Z" fill="#a7cd71" fill-opacity="0.5" stroke="none"/>
<path d="M799.1 233.5 L962 233.5 C963.33 233.4 967.07 233.15 970 232.9 C972.93 232.65 976.8 232.67 979.6 232 C982.4 231.33 984.8 230.22 986.8 228.9 C988.8 227.58 990.27 226.1 991.6 224.1 C992.93 222.1 993.8 219.7 994.8 216.9 C995.8 214.1 996.73 210.7 997.6 207.3 C998.47 203.9 999.18 200.32 1000 196.5 C1000.82 192.68 1001.68 188.22 1002.5 184.4 C1003.32 180.58 1004.1 176.2 1004.9 173.6 C1005.7 171 1006.5 170 1007.3 168.8 C1008.1 167.6 1008.98 166.8 1009.7 166.4 C1010.42 166 1011 165.8 1011.6 166.4 C1012.2 167 1012.7 167.8 1013.3 170 C1013.9 172.2 1014.6 176.4 1015.2 179.6 C1015.8 182.8 1016.3 185.58 1016.9 189.2 C1017.5 192.82 1018.12 197.48 1018.8 201.3 C1019.48 205.12 1020.23 208.7 1021 212.1 C1021.77 215.5 1022.48 218.9 1023.4 221.7 C1024.32 224.5 1025.18 227.18 1026.5 228.9 C1027.82 230.62 1029.5 231.33 1031.3 232 C1033.1 232.67 1035.18 232.65 1037.3 232.9 C1039.42 233.15 1042.88 233.4 1044 233.5 L1064.4 233.5" fill="none" stroke="#79b53a" stroke-width="1.2" stroke-linejoin="round"/>
<path d="M799.1 270.83 L968 270.83 C969.13 270.69 972.87 270.34 974.8 270 C976.73 269.66 977.8 269.52 979.6 268.8 C981.4 268.08 983.8 267.1 985.6 265.7 C987.4 264.3 989 262.48 990.4 260.4 C991.8 258.32 993 256 994 253.2 C995 250.4 995.6 247.2 996.4 243.6 C997.2 240 997.98 235.62 998.8 231.6 C999.62 227.58 1000.48 223.12 1001.3 219.5 C1002.12 215.88 1002.95 212.48 1003.7 209.9 C1004.45 207.32 1005.2 205.28 1005.8 204 C1006.4 202.72 1006.83 202.28 1007.3 202.2 C1007.77 202.12 1008.2 202.82 1008.6 203.5 C1009 204.18 1009.12 204.43 1009.7 206.3 C1010.28 208.17 1011.3 211.28 1012.1 214.7 C1012.9 218.12 1013.7 222.78 1014.5 226.8 C1015.3 230.82 1016.1 234.8 1016.9 238.8 C1017.7 242.8 1018.5 247.2 1019.3 250.8 C1020.1 254.4 1020.9 257.8 1021.7 260.4 C1022.5 263 1023.1 264.88 1024.1 266.4 C1025.1 267.92 1026.38 268.76 1027.7 269.5 C1029.02 270.24 1031.28 270.61 1032 270.83 L1064.4 270.83 Z" fill="#bcbcbc" fill-opacity="0.5" stroke="none"/>
<path d="M799.1 270.83 L968 270.83 C969.13 270.69 972.87 270.34 974.8 270 C976.73 269.66 977.8 269.52 979.6 268.8 C981.4 268.08 983.8 267.1 985.6 265.7 C987.4 264.3 989 262.48 990.4 260.4 C991.8 258.32 993 256 994 253.2 C995 250.4 995.6 247.2 996.4 243.6 C997.2 240 997.98 235.62 998.8 231.6 C999.62 227.58 1000.48 223.12 1001.3 219.5 C1002.12 215.88 1002.95 212.48 1003.7 209.9 C1004.45 207.32 1005.2 205.28 1005.8 204 C1006.4 202.72 1006.83 202.28 1007.3 202.2 C1007.77 202.12 1008.2 202.82 1008.6 203.5 C1009 204.18 1009.12 204.43 1009.7 206.3 C1010.28 208.17 1011.3 211.28 1012.1 214.7 C1012.9 218.12 1013.7 222.78 1014.5 226.8 C1015.3 230.82 1016.1 234.8 1016.9 238.8 C1017.7 242.8 1018.5 247.2 1019.3 250.8 C1020.1 254.4 1020.9 257.8 1021.7 260.4 C1022.5 263 1023.1 264.88 1024.1 266.4 C1025.1 267.92 1026.38 268.76 1027.7 269.5 C1029.02 270.24 1031.28 270.61 1032 270.83 L1064.4 270.83" fill="none" stroke="#a9a9a9" stroke-width="1.2" stroke-linejoin="round"/>
<line x1="941.1" y1="84.3" x2="941.1" y2="270.83" stroke="#7e7e7e" stroke-width="1.3" stroke-dasharray="3.9 4.25" stroke-dashoffset="1.45"/>
<line x1="799.1" y1="270.83" x2="1064.4" y2="270.83" stroke="#bababa" stroke-width="1.0"/>
<rect x="815.15" y="269.03" width="1.7" height="4.8" fill="#111"/>
<rect x="902.15" y="269.03" width="1.7" height="4.8" fill="#111"/>
<rect x="975.05" y="269.03" width="1.7" height="4.8" fill="#111"/>
<rect x="1036.85" y="269.03" width="1.7" height="4.8" fill="#111"/>
<rect x="818.1" y="269.23" width="1.2" height="2.1" fill="#222"/>
<rect x="899.7" y="269.23" width="1.2" height="2.1" fill="#222"/>
<rect x="822.53" y="269.23" width="1.2" height="2.1" fill="#222"/>
<rect x="895.27" y="269.23" width="1.2" height="2.1" fill="#222"/>
<rect x="826.1" y="269.23" width="1.2" height="2.1" fill="#222"/>
<rect x="891.7" y="269.23" width="1.2" height="2.1" fill="#222"/>
<rect x="830.02" y="269.23" width="1.2" height="2.1" fill="#222"/>
<rect x="887.78" y="269.23" width="1.2" height="2.1" fill="#222"/>
<rect x="834.23" y="269.53" width="1.3" height="3.4" fill="#111"/>
<rect x="883.47" y="269.53" width="1.3" height="3.4" fill="#111"/>
<rect x="838.89" y="269.23" width="1.2" height="2.1" fill="#222"/>
<rect x="878.91" y="269.23" width="1.2" height="2.1" fill="#222"/>
<rect x="842.98" y="269.23" width="1.2" height="2.1" fill="#222"/>
<rect x="874.82" y="269.23" width="1.2" height="2.1" fill="#222"/>
<rect x="846.02" y="269.23" width="1.2" height="2.1" fill="#222"/>
<rect x="871.78" y="269.23" width="1.2" height="2.1" fill="#222"/>
<rect x="849.24" y="269.23" width="1.2" height="2.1" fill="#222"/>
<rect x="868.56" y="269.23" width="1.2" height="2.1" fill="#222"/>
<rect x="925.8" y="269.23" width="1.2" height="2.1" fill="#222"/>
<rect x="938.64" y="269.23" width="1.2" height="2.1" fill="#222"/>
<rect x="947.53" y="269.23" width="1.2" height="2.1" fill="#222"/>
<rect x="954.47" y="269.53" width="1.3" height="3.4" fill="#111"/>
<rect x="960" y="269.23" width="1.2" height="2.1" fill="#222"/>
<rect x="964.01" y="269.23" width="1.2" height="2.1" fill="#222"/>
<rect x="967.87" y="269.23" width="1.2" height="2.1" fill="#222"/>
<rect x="971.24" y="269.23" width="1.2" height="2.1" fill="#222"/>
<rect x="993.9" y="269.23" width="1.2" height="2.1" fill="#222"/>
<rect x="1004.79" y="269.23" width="1.2" height="2.1" fill="#222"/>
<rect x="1012.51" y="269.23" width="1.2" height="2.1" fill="#222"/>
<rect x="1018.45" y="269.53" width="1.3" height="3.4" fill="#111"/>
<rect x="1023.39" y="269.23" width="1.2" height="2.1" fill="#222"/>
<rect x="1027.53" y="269.23" width="1.2" height="2.1" fill="#222"/>
<rect x="1031.11" y="269.23" width="1.2" height="2.1" fill="#222"/>
<rect x="1034.27" y="269.23" width="1.2" height="2.1" fill="#222"/>
<rect x="1055.7" y="269.23" width="1.2" height="2.1" fill="#222"/>
<rect x="853.1" y="269.23" width="12.2" height="3.0" fill="#111"/>
<rect x="853.1" y="269.23" width="1.5" height="4.7" fill="#111"/>
<rect x="856.26" y="269.23" width="1" height="3.3" fill="#111"/>
<rect x="858.4" y="269.23" width="1.6" height="4.4" fill="#111"/>
<rect x="861.14" y="269.23" width="1" height="3.3" fill="#111"/>
<rect x="863.8" y="269.23" width="1.5" height="4.7" fill="#111"/>
<text x="814.1" y="283.83" class="tl">-10<tspan dx="-0.4" dy="-4.8" class="sp">3</tspan></text>
<text x="860.5" y="283.83" class="tl">0</text>
<text x="902.4" y="283.83" class="tl">10<tspan dx="-0.4" dy="-4.8" class="sp">3</tspan></text>
<text x="975.3" y="283.83" class="tl">10<tspan dx="-0.4" dy="-4.8" class="sp">4</tspan></text>
<text x="1037.1" y="283.83" class="tl">10<tspan dx="-0.4" dy="-4.8" class="sp">5</tspan></text>
<text x="1081.2" y="82.8" class="lb">Control</text>
<text x="1081.2" y="120" class="lb">AMO-1</text>
<text x="1081.2" y="156.6" class="lb">OPM-2</text>
<text x="1081.2" y="193.7" class="lb">RPMI 8226</text>
<text x="1081.2" y="231.4" class="lb">U266</text>
<text x="1081.2" y="268.1" class="lb">H929</text>
<text x="884.3" y="326.1" class="tt">CD267</text>
<path d="M1192 73.96 L1232 73.96 C1233.15 73.93 1237.15 74.14 1238.9 73.76 C1240.65 73.38 1241.52 72.93 1242.5 71.66 C1243.48 70.39 1244.22 68.66 1244.8 66.16 C1245.38 63.66 1245.65 59.74 1246 56.66 C1246.35 53.58 1246.6 50.13 1246.9 47.66 C1247.2 45.19 1247.47 43.13 1247.8 41.86 C1248.13 40.59 1248.53 40.06 1248.9 40.06 C1249.27 40.06 1249.65 40.68 1250 41.86 C1250.35 43.04 1250.67 44.86 1251 47.16 C1251.33 49.46 1251.62 52.74 1252 55.66 C1252.38 58.58 1252.72 62.16 1253.3 64.66 C1253.88 67.16 1254.52 69.19 1255.5 70.66 C1256.48 72.13 1257.62 72.91 1259.2 73.46 C1260.78 74.01 1264.03 73.88 1265 73.96 L1428.7 73.96 Z" fill="#91cdd3" fill-opacity="0.5" stroke="none"/>
<path d="M1192 73.96 L1232 73.96 C1233.15 73.93 1237.15 74.14 1238.9 73.76 C1240.65 73.38 1241.52 72.93 1242.5 71.66 C1243.48 70.39 1244.22 68.66 1244.8 66.16 C1245.38 63.66 1245.65 59.74 1246 56.66 C1246.35 53.58 1246.6 50.13 1246.9 47.66 C1247.2 45.19 1247.47 43.13 1247.8 41.86 C1248.13 40.59 1248.53 40.06 1248.9 40.06 C1249.27 40.06 1249.65 40.68 1250 41.86 C1250.35 43.04 1250.67 44.86 1251 47.16 C1251.33 49.46 1251.62 52.74 1252 55.66 C1252.38 58.58 1252.72 62.16 1253.3 64.66 C1253.88 67.16 1254.52 69.19 1255.5 70.66 C1256.48 72.13 1257.62 72.91 1259.2 73.46 C1260.78 74.01 1264.03 73.88 1265 73.96 L1428.7 73.96" fill="none" stroke="#4fb9c1" stroke-width="1.2" stroke-linejoin="round"/>
<path d="M1192 112.93 L1237 112.93 C1238 112.68 1241.65 113.03 1243 111.43 C1244.35 109.83 1244.57 106.93 1245.1 103.33 C1245.63 99.73 1245.88 93.66 1246.2 89.83 C1246.52 86 1246.73 82.36 1247 80.33 C1247.27 78.3 1247.52 77.63 1247.8 77.63 C1248.08 77.63 1248.38 78.75 1248.7 80.33 C1249.02 81.91 1249.3 83.3 1249.7 87.13 C1250.1 90.96 1250.52 99.28 1251.1 103.33 C1251.68 107.38 1252.05 109.83 1253.2 111.43 C1254.35 113.03 1257.2 112.68 1258 112.93 L1428.7 112.93 Z" fill="#ec6a45" fill-opacity="0.5" stroke="none"/>
<path d="M1192 112.93 L1237 112.93 C1238 112.68 1241.65 113.03 1243 111.43 C1244.35 109.83 1244.57 106.93 1245.1 103.33 C1245.63 99.73 1245.88 93.66 1246.2 89.83 C1246.52 86 1246.73 82.36 1247 80.33 C1247.27 78.3 1247.52 77.63 1247.8 77.63 C1248.08 77.63 1248.38 78.75 1248.7 80.33 C1249.02 81.91 1249.3 83.3 1249.7 87.13 C1250.1 90.96 1250.52 99.28 1251.1 103.33 C1251.68 107.38 1252.05 109.83 1253.2 111.43 C1254.35 113.03 1257.2 112.68 1258 112.93 L1428.7 112.93" fill="none" stroke="#d9412f" stroke-width="1.2" stroke-linejoin="round"/>
<path d="M1192 151.33 L1262 151.33 C1263.67 151.33 1268.33 151.63 1272 151.33 C1275.67 151.03 1280.48 150.26 1284 149.53 C1287.52 148.8 1290.58 147.76 1293.1 146.93 C1295.62 146.1 1297.6 145.53 1299.1 144.53 C1300.6 143.53 1301.2 142.53 1302.1 140.93 C1303 139.33 1303.75 136.53 1304.5 134.93 C1305.25 133.33 1305.75 132.2 1306.6 131.33 C1307.45 130.46 1308.6 130.8 1309.6 129.73 C1310.6 128.66 1311.6 126.13 1312.6 124.93 C1313.6 123.73 1314.6 122.73 1315.6 122.53 C1316.6 122.33 1317.6 122.93 1318.6 123.73 C1319.6 124.53 1320.6 126.33 1321.6 127.33 C1322.6 128.33 1323.6 128.56 1324.6 129.73 C1325.6 130.9 1326.6 132.46 1327.6 134.33 C1328.6 136.2 1329.45 138.83 1330.6 140.93 C1331.75 143.03 1333.15 145.38 1334.5 146.93 C1335.85 148.48 1336.85 149.5 1338.7 150.23 C1340.55 150.96 1343.38 151.15 1345.6 151.33 C1347.82 151.51 1350.93 151.33 1352 151.33 L1428.7 151.33 Z" fill="#5d6e3c" fill-opacity="0.5" stroke="none"/>
<path d="M1192 151.33 L1262 151.33 C1263.67 151.33 1268.33 151.63 1272 151.33 C1275.67 151.03 1280.48 150.26 1284 149.53 C1287.52 148.8 1290.58 147.76 1293.1 146.93 C1295.62 146.1 1297.6 145.53 1299.1 144.53 C1300.6 143.53 1301.2 142.53 1302.1 140.93 C1303 139.33 1303.75 136.53 1304.5 134.93 C1305.25 133.33 1305.75 132.2 1306.6 131.33 C1307.45 130.46 1308.6 130.8 1309.6 129.73 C1310.6 128.66 1311.6 126.13 1312.6 124.93 C1313.6 123.73 1314.6 122.73 1315.6 122.53 C1316.6 122.33 1317.6 122.93 1318.6 123.73 C1319.6 124.53 1320.6 126.33 1321.6 127.33 C1322.6 128.33 1323.6 128.56 1324.6 129.73 C1325.6 130.9 1326.6 132.46 1327.6 134.33 C1328.6 136.2 1329.45 138.83 1330.6 140.93 C1331.75 143.03 1333.15 145.38 1334.5 146.93 C1335.85 148.48 1336.85 149.5 1338.7 150.23 C1340.55 150.96 1343.38 151.15 1345.6 151.33 C1347.82 151.51 1350.93 151.33 1352 151.33 L1428.7 151.33" fill="none" stroke="#385a2e" stroke-width="1.2" stroke-linejoin="round"/>
<path d="M1192 190.3 L1275 190.3 C1277.5 190.25 1285.98 190.2 1290 190 C1294.02 189.8 1296.08 189.75 1299.1 189.1 C1302.12 188.45 1305.35 187.6 1308.1 186.1 C1310.85 184.6 1313.6 182.2 1315.6 180.1 C1317.6 178 1318.6 176.15 1320.1 173.5 C1321.6 170.85 1323.2 166.75 1324.6 164.2 C1326 161.65 1327.35 159.55 1328.5 158.2 C1329.65 156.85 1330.5 156.1 1331.5 156.1 C1332.5 156.1 1333.4 156.7 1334.5 158.2 C1335.6 159.7 1336.85 162.7 1338.1 165.1 C1339.35 167.5 1340.6 169.95 1342 172.6 C1343.4 175.25 1344.9 178.65 1346.5 181 C1348.1 183.35 1349.48 185.3 1351.6 186.7 C1353.72 188.1 1356.43 188.82 1359.2 189.4 C1361.97 189.98 1365.4 190.05 1368.2 190.2 C1371 190.35 1374.7 190.28 1376 190.3 L1428.7 190.3 Z" fill="#f9ab6b" fill-opacity="0.5" stroke="none"/>
<path d="M1192 190.3 L1275 190.3 C1277.5 190.25 1285.98 190.2 1290 190 C1294.02 189.8 1296.08 189.75 1299.1 189.1 C1302.12 188.45 1305.35 187.6 1308.1 186.1 C1310.85 184.6 1313.6 182.2 1315.6 180.1 C1317.6 178 1318.6 176.15 1320.1 173.5 C1321.6 170.85 1323.2 166.75 1324.6 164.2 C1326 161.65 1327.35 159.55 1328.5 158.2 C1329.65 156.85 1330.5 156.1 1331.5 156.1 C1332.5 156.1 1333.4 156.7 1334.5 158.2 C1335.6 159.7 1336.85 162.7 1338.1 165.1 C1339.35 167.5 1340.6 169.95 1342 172.6 C1343.4 175.25 1344.9 178.65 1346.5 181 C1348.1 183.35 1349.48 185.3 1351.6 186.7 C1353.72 188.1 1356.43 188.82 1359.2 189.4 C1361.97 189.98 1365.4 190.05 1368.2 190.2 C1371 190.35 1374.7 190.28 1376 190.3 L1428.7 190.3" fill="none" stroke="#efa04c" stroke-width="1.2" stroke-linejoin="round"/>
<path d="M1192 229 L1262 229 C1264.67 228.93 1273.33 228.92 1278 228.6 C1282.67 228.28 1286.73 227.6 1290 227.1 C1293.27 226.6 1295.58 226.2 1297.6 225.6 C1299.62 225 1300.35 224.25 1302.1 223.5 C1303.85 222.75 1306.35 222 1308.1 221.1 C1309.85 220.2 1311.35 219.62 1312.6 218.1 C1313.85 216.58 1314.6 213.92 1315.6 212 C1316.6 210.08 1317.6 207.85 1318.6 206.6 C1319.6 205.35 1320.6 205.1 1321.6 204.5 C1322.6 203.9 1323.45 203.65 1324.6 203 C1325.75 202.35 1327.35 200.6 1328.5 200.6 C1329.65 200.6 1330.5 201.6 1331.5 203 C1332.5 204.4 1333.5 207.5 1334.5 209 C1335.5 210.5 1336.5 211.25 1337.5 212 C1338.5 212.75 1339.4 212.48 1340.5 213.5 C1341.6 214.52 1342.75 216.33 1344.1 218.1 C1345.45 219.87 1346.83 222.45 1348.6 224.1 C1350.37 225.75 1352.18 227.18 1354.7 228 C1357.22 228.82 1361.15 228.83 1363.7 229 C1366.25 229.17 1368.95 229 1370 229 L1428.7 229 Z" fill="#a7cd71" fill-opacity="0.5" stroke="none"/>
<path d="M1192 229 L1262 229 C1264.67 228.93 1273.33 228.92 1278 228.6 C1282.67 228.28 1286.73 227.6 1290 227.1 C1293.27 226.6 1295.58 226.2 1297.6 225.6 C1299.62 225 1300.35 224.25 1302.1 223.5 C1303.85 222.75 1306.35 222 1308.1 221.1 C1309.85 220.2 1311.35 219.62 1312.6 218.1 C1313.85 216.58 1314.6 213.92 1315.6 212 C1316.6 210.08 1317.6 207.85 1318.6 206.6 C1319.6 205.35 1320.6 205.1 1321.6 204.5 C1322.6 203.9 1323.45 203.65 1324.6 203 C1325.75 202.35 1327.35 200.6 1328.5 200.6 C1329.65 200.6 1330.5 201.6 1331.5 203 C1332.5 204.4 1333.5 207.5 1334.5 209 C1335.5 210.5 1336.5 211.25 1337.5 212 C1338.5 212.75 1339.4 212.48 1340.5 213.5 C1341.6 214.52 1342.75 216.33 1344.1 218.1 C1345.45 219.87 1346.83 222.45 1348.6 224.1 C1350.37 225.75 1352.18 227.18 1354.7 228 C1357.22 228.82 1361.15 228.83 1363.7 229 C1366.25 229.17 1368.95 229 1370 229 L1428.7 229" fill="none" stroke="#79b53a" stroke-width="1.2" stroke-linejoin="round"/>
<path d="M1192 268 L1262 268 C1262.5 267.98 1263.23 268.08 1265 267.9 C1266.77 267.72 1270.28 267.38 1272.6 266.9 C1274.92 266.42 1277 265.68 1278.9 265 C1280.8 264.32 1282.32 263.87 1284 262.8 C1285.68 261.73 1287.33 259.93 1289 258.6 C1290.67 257.27 1292.53 255.97 1294 254.8 C1295.47 253.63 1296.53 252.68 1297.8 251.6 C1299.07 250.52 1300.65 249.47 1301.6 248.3 C1302.55 247.13 1302.87 245.93 1303.5 244.6 C1304.13 243.27 1304.77 241.4 1305.4 240.3 C1306.03 239.2 1306.67 238.42 1307.3 238 C1307.93 237.58 1308.47 237.67 1309.2 237.8 C1309.93 237.93 1310.87 238.63 1311.7 238.8 C1312.53 238.97 1313.37 238.45 1314.2 238.8 C1315.03 239.15 1315.85 239.82 1316.7 240.9 C1317.55 241.98 1318.45 243.72 1319.3 245.3 C1320.15 246.88 1320.97 248.72 1321.8 250.4 C1322.63 252.08 1323.35 253.62 1324.3 255.4 C1325.25 257.18 1326.45 259.52 1327.5 261.1 C1328.55 262.68 1329.45 263.93 1330.6 264.9 C1331.75 265.87 1332.93 266.42 1334.4 266.9 C1335.87 267.38 1337.8 267.62 1339.4 267.8 C1341 267.98 1343.23 267.97 1344 268 L1428.7 268 Z" fill="#bcbcbc" fill-opacity="0.5" stroke="none"/>
<path d="M1192 268 L1262 268 C1262.5 267.98 1263.23 268.08 1265 267.9 C1266.77 267.72 1270.28 267.38 1272.6 266.9 C1274.92 266.42 1277 265.68 1278.9 265 C1280.8 264.32 1282.32 263.87 1284 262.8 C1285.68 261.73 1287.33 259.93 1289 258.6 C1290.67 257.27 1292.53 255.97 1294 254.8 C1295.47 253.63 1296.53 252.68 1297.8 251.6 C1299.07 250.52 1300.65 249.47 1301.6 248.3 C1302.55 247.13 1302.87 245.93 1303.5 244.6 C1304.13 243.27 1304.77 241.4 1305.4 240.3 C1306.03 239.2 1306.67 238.42 1307.3 238 C1307.93 237.58 1308.47 237.67 1309.2 237.8 C1309.93 237.93 1310.87 238.63 1311.7 238.8 C1312.53 238.97 1313.37 238.45 1314.2 238.8 C1315.03 239.15 1315.85 239.82 1316.7 240.9 C1317.55 241.98 1318.45 243.72 1319.3 245.3 C1320.15 246.88 1320.97 248.72 1321.8 250.4 C1322.63 252.08 1323.35 253.62 1324.3 255.4 C1325.25 257.18 1326.45 259.52 1327.5 261.1 C1328.55 262.68 1329.45 263.93 1330.6 264.9 C1331.75 265.87 1332.93 266.42 1334.4 266.9 C1335.87 267.38 1337.8 267.62 1339.4 267.8 C1341 267.98 1343.23 267.97 1344 268 L1428.7 268" fill="none" stroke="#a9a9a9" stroke-width="1.2" stroke-linejoin="round"/>
<line x1="1265.1" y1="73.96" x2="1265.1" y2="268" stroke="#7e7e7e" stroke-width="1.3" stroke-dasharray="3.9 4.25" stroke-dashoffset="1.31"/>
<line x1="1192" y1="268" x2="1428.7" y2="268" stroke="#bababa" stroke-width="1.0"/>
<rect x="1206.05" y="267.5" width="1.7" height="4.8" fill="#111"/>
<rect x="1283.75" y="267.5" width="1.7" height="4.8" fill="#111"/>
<rect x="1349.25" y="267.5" width="1.7" height="4.8" fill="#111"/>
<rect x="1405.45" y="267.5" width="1.7" height="4.8" fill="#111"/>
<rect x="1208.71" y="267.7" width="1.2" height="2.1" fill="#222"/>
<rect x="1281.59" y="267.7" width="1.2" height="2.1" fill="#222"/>
<rect x="1212.67" y="267.7" width="1.2" height="2.1" fill="#222"/>
<rect x="1277.63" y="267.7" width="1.2" height="2.1" fill="#222"/>
<rect x="1215.86" y="267.7" width="1.2" height="2.1" fill="#222"/>
<rect x="1274.44" y="267.7" width="1.2" height="2.1" fill="#222"/>
<rect x="1219.35" y="267.7" width="1.2" height="2.1" fill="#222"/>
<rect x="1270.95" y="267.7" width="1.2" height="2.1" fill="#222"/>
<rect x="1223.11" y="268" width="1.3" height="3.4" fill="#111"/>
<rect x="1267.09" y="268" width="1.3" height="3.4" fill="#111"/>
<rect x="1227.28" y="267.7" width="1.2" height="2.1" fill="#222"/>
<rect x="1263.02" y="267.7" width="1.2" height="2.1" fill="#222"/>
<rect x="1230.93" y="267.7" width="1.2" height="2.1" fill="#222"/>
<rect x="1259.37" y="267.7" width="1.2" height="2.1" fill="#222"/>
<rect x="1233.65" y="267.7" width="1.2" height="2.1" fill="#222"/>
<rect x="1256.65" y="267.7" width="1.2" height="2.1" fill="#222"/>
<rect x="1236.53" y="267.7" width="1.2" height="2.1" fill="#222"/>
<rect x="1253.77" y="267.7" width="1.2" height="2.1" fill="#222"/>
<rect x="1305.03" y="267.7" width="1.2" height="2.1" fill="#222"/>
<rect x="1316.56" y="267.7" width="1.2" height="2.1" fill="#222"/>
<rect x="1324.55" y="267.7" width="1.2" height="2.1" fill="#222"/>
<rect x="1330.78" y="268" width="1.3" height="3.4" fill="#111"/>
<rect x="1335.75" y="267.7" width="1.2" height="2.1" fill="#222"/>
<rect x="1339.35" y="267.7" width="1.2" height="2.1" fill="#222"/>
<rect x="1342.82" y="267.7" width="1.2" height="2.1" fill="#222"/>
<rect x="1345.85" y="267.7" width="1.2" height="2.1" fill="#222"/>
<rect x="1366.42" y="267.7" width="1.2" height="2.1" fill="#222"/>
<rect x="1376.31" y="267.7" width="1.2" height="2.1" fill="#222"/>
<rect x="1383.34" y="267.7" width="1.2" height="2.1" fill="#222"/>
<rect x="1388.73" y="268" width="1.3" height="3.4" fill="#111"/>
<rect x="1393.23" y="267.7" width="1.2" height="2.1" fill="#222"/>
<rect x="1396.99" y="267.7" width="1.2" height="2.1" fill="#222"/>
<rect x="1400.25" y="267.7" width="1.2" height="2.1" fill="#222"/>
<rect x="1403.13" y="267.7" width="1.2" height="2.1" fill="#222"/>
<rect x="1422.62" y="267.7" width="1.2" height="2.1" fill="#222"/>
<rect x="1240.1" y="267.7" width="11.1" height="3.0" fill="#111"/>
<rect x="1240.1" y="267.7" width="1.5" height="4.7" fill="#111"/>
<rect x="1242.93" y="267.7" width="1" height="3.3" fill="#111"/>
<rect x="1244.85" y="267.7" width="1.6" height="4.4" fill="#111"/>
<rect x="1247.37" y="267.7" width="1" height="3.3" fill="#111"/>
<rect x="1249.7" y="267.7" width="1.5" height="4.7" fill="#111"/>
<text x="1205" y="281.6" class="tl">-10<tspan dx="-0.4" dy="-4.8" class="sp">3</tspan></text>
<text x="1246.95" y="281.6" class="tl">0</text>
<text x="1284" y="281.6" class="tl">10<tspan dx="-0.4" dy="-4.8" class="sp">3</tspan></text>
<text x="1349.5" y="281.6" class="tl">10<tspan dx="-0.4" dy="-4.8" class="sp">4</tspan></text>
<text x="1405.7" y="281.6" class="tl">10<tspan dx="-0.4" dy="-4.8" class="sp">5</tspan></text>
<text x="1444.2" y="81.4" class="lb">Control</text>
<text x="1444.2" y="118.1" class="lb">AMO-1</text>
<text x="1444.2" y="155.2" class="lb">OPM-2</text>
<text x="1444.2" y="191.7" class="lb">RPMI 8226</text>
<text x="1444.2" y="228.6" class="lb">U266</text>
<text x="1444.2" y="266" class="lb">H929</text>
<text x="1290.1" y="326.1" class="tt">CD320</text>
</svg>
</body></html>
